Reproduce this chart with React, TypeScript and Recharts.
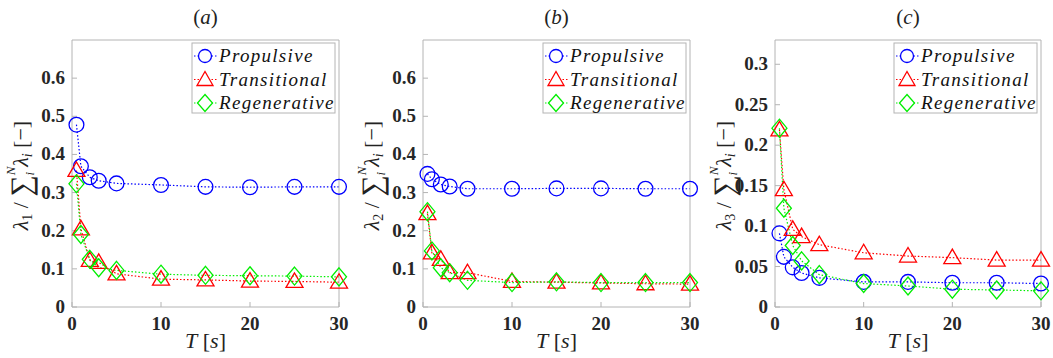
import React from 'react';
import { LineChart, Line, XAxis, YAxis, Customized } from 'recharts';

const periods = [0.5, 1, 2, 3, 5, 10, 15, 20, 25, 30];

const propA = [0.478, 0.369, 0.340, 0.331, 0.324, 0.320, 0.315, 0.314, 0.315, 0.315];
const tranA = [0.358, 0.205, 0.122, 0.117, 0.087, 0.073, 0.071, 0.068, 0.067, 0.065];
const regeA = [0.323, 0.190, 0.125, 0.103, 0.096, 0.086, 0.083, 0.082, 0.081, 0.079];

const propB = [0.349, 0.335, 0.321, 0.316, 0.310, 0.310, 0.311, 0.311, 0.310, 0.310];
const tranB = [0.245, 0.142, 0.125, 0.090, 0.090, 0.067, 0.065, 0.063, 0.061, 0.060];
const regeB = [0.250, 0.147, 0.103, 0.090, 0.070, 0.064, 0.066, 0.064, 0.064, 0.064];

const propC = [0.091, 0.062, 0.049, 0.042, 0.036, 0.031, 0.031, 0.030, 0.030, 0.029];
const tranC = [0.219, 0.145, 0.096, 0.087, 0.077, 0.067, 0.063, 0.061, 0.058, 0.058];
const regeC = [0.221, 0.122, 0.076, 0.057, 0.040, 0.029, 0.026, 0.022, 0.021, 0.020];

const xTicks = [0, 10, 20, 30];
const yTicksAB = [0, 0.1, 0.2, 0.3, 0.4, 0.5, 0.6];
const yTicksC = [0, 0.05, 0.1, 0.15, 0.2, 0.25, 0.3];

const seriesNames = ['Propulsive', 'Transitional', 'Regenerative'];
const BLUE = '#0000ff';
const RED = '#ff0000';
const GREEN = '#00ee00';
const AXIS = '#b4b4b4';
const SERIF = 'Liberation Serif';
const serifStyle = { fontFamily: SERIF };

const Circle = (props: any) => {
  const { cx, cy } = props;
  if (cx == null || cy == null) return null;
  return <circle key={`c${cx}`} cx={cx} cy={cy} r={7.4} fill="none" stroke={BLUE} strokeWidth={1.3} />;
};
const Tri = (props: any) => {
  const { cx, cy } = props;
  if (cx == null || cy == null) return null;
  return (
    <polygon
      key={`t${cx}`}
      points={`${cx},${cy - 8.5} ${cx - 8.5},${cy + 6} ${cx + 8.5},${cy + 6}`}
      fill="none"
      stroke={RED}
      strokeWidth={1.3}
    />
  );
};
const Dia = (props: any) => {
  const { cx, cy } = props;
  if (cx == null || cy == null) return null;
  return (
    <polygon
      key={`d${cx}`}
      points={`${cx},${cy - 9} ${cx + 7.5},${cy} ${cx},${cy + 9} ${cx - 7.5},${cy}`}
      fill="none"
      stroke={GREEN}
      strokeWidth={1.3}
    />
  );
};

const XTick = (props: any) => {
  const { x, y, payload } = props;
  return (
    <text x={x} y={y} dy={14} textAnchor="middle" style={serifStyle} fontWeight={700} fontSize={19} fill="#262626">
      {payload.value}
    </text>
  );
};
const YTick = (props: any) => {
  const { x, y, payload } = props;
  return (
    <text x={x} y={y} dy={6} textAnchor="end" style={serifStyle} fontWeight={700} fontSize={19} fill="#262626">
      {payload.value}
    </text>
  );
};

type PanelProps = {
  left: number;
  width: number;
  margin: { top: number; right: number; bottom: number; left: number };
  letter: string;
  idx: string;
  p: number[];
  t: number[];
  r: number[];
  yMax: number;
  yTicks: number[];
};

function Panel({ left, width, margin, letter, idx, p, t, r, yMax, yTicks }: PanelProps) {
  const height = 358;
  const data = periods.map((T, i) => ({ T, p: p[i], t: t[i], r: r[i] }));
  const plotL = margin.left + 1;
  const plotR = width - margin.right - 1;
  const cxp = (plotL + plotR) / 2;
  const cyp = (margin.top + 1 + height - margin.bottom - 1) / 2;

  const Decor = () => {
    const lx = plotR - 147;
    const ly = 43;
    const rows = [
      { name: seriesNames[0], color: BLUE, kind: 'c' },
      { name: seriesNames[1], color: RED, kind: 't' },
      { name: seriesNames[2], color: GREEN, kind: 'd' },
    ];
    return (
      <g style={serifStyle}>
        <text x={cxp} y={24} textAnchor="middle" style={serifStyle} fontSize={21} fill="#222">
          (<tspan fontStyle="italic">{letter}</tspan>)
        </text>
        <text x={cxp} y={348} textAnchor="middle" style={serifStyle} fontSize={22} fill="#222">
          <tspan fontStyle="italic">T</tspan> [<tspan fontStyle="italic">s</tspan>]
        </text>
        <text
          transform={`translate(${plotL - 44}, ${cyp + 2}) rotate(-90)`}
          textAnchor="middle"
          style={serifStyle}
          fontSize={22}
          fill="#222"
        >
          <tspan fontStyle="italic">λ</tspan>
          <tspan fontSize={14} dy={4}>{idx}</tspan>
          <tspan dy={-4}> / </tspan>
          <tspan fontSize={30} dy={3}>∑</tspan>
          <tspan fontSize={13} dy={-16} fontStyle="italic">N</tspan>
          <tspan fontSize={13} dy={19} dx={-9} fontStyle="italic">i</tspan>
          <tspan dy={-6} dx={5} fontStyle="italic">λ</tspan>
          <tspan fontSize={14} dy={4} fontStyle="italic">i</tspan>
          <tspan dy={-4}> [−]</tspan>
        </text>
        <rect x={lx} y={ly} width={143} height={70} fill="#fff" stroke={AXIS} strokeWidth={1} />
        {rows.map((row, i) => {
          const y = ly + 13 + i * 23.5;
          const mx = lx + 13;
          return (
            <g key={row.name}>
              <line x1={lx + 2} x2={lx + 25} y1={y} y2={y} stroke={row.color} strokeWidth={1.2} strokeDasharray="1.5 2" />
              {row.kind === 'c' && <circle cx={mx} cy={y} r={6.5} fill="#fff" stroke={row.color} strokeWidth={1.3} />}
              {row.kind === 't' && (
                <polygon points={`${mx},${y - 8} ${mx - 8},${y + 6} ${mx + 8},${y + 6}`} fill="#fff" stroke={row.color} strokeWidth={1.3} />
              )}
              {row.kind === 'd' && (
                <polygon points={`${mx},${y - 8.5} ${mx + 7.5},${y} ${mx},${y + 8.5} ${mx - 7.5},${y}`} fill="#fff" stroke={row.color} strokeWidth={1.3} />
              )}
              <text x={lx + 27} y={y + 6} style={serifStyle} fontStyle="italic" fontSize={19} letterSpacing={1.3} fill="#111">
                {row.name}
              </text>
            </g>
          );
        })}
      </g>
    );
  };

  return (
    <div style={{ position: 'absolute', left, top: 0, width, height, fontFamily: SERIF }}>
      <LineChart width={width} height={height} data={data} margin={margin}>
        <XAxis
          dataKey="T"
          type="number"
          domain={[0, 30]}
          ticks={xTicks}
          height={1}
          tickSize={-5}
          tickMargin={14}
          stroke={AXIS}
          tick={XTick}
          interval={0}
        />
        <XAxis xAxisId="top" orientation="top" dataKey="T" type="number" domain={[0, 30]} ticks={xTicks} height={1} tickSize={-5} stroke={AXIS} tick={false} interval={0} />
        <YAxis
          type="number"
          domain={[0, yMax]}
          ticks={yTicks}
          width={1}
          tickSize={-5}
          tickMargin={12}
          stroke={AXIS}
          tick={YTick}
          interval={0}
          allowDataOverflow
        />
        <YAxis yAxisId="right" orientation="right" type="number" domain={[0, yMax]} ticks={yTicks} width={1} tickSize={-5} stroke={AXIS} tick={false} interval={0} allowDataOverflow />
        <Line dataKey="p" stroke={BLUE} strokeWidth={1.2} strokeDasharray="1.5 2" dot={Circle} isAnimationActive={false} />
        <Line dataKey="t" stroke={RED} strokeWidth={1.2} strokeDasharray="1.5 2" dot={Tri} isAnimationActive={false} />
        <Line dataKey="r" stroke={GREEN} strokeWidth={1.2} strokeDasharray="1.5 2" dot={Dia} isAnimationActive={false} />
        <Customized component={<Decor />} />
      </LineChart>
    </div>
  );
}

export default function App() {
  return (
    <div style={{ position: 'absolute', left: 0, top: 0, width: 1053, height: 358, background: '#fff' }}>
      <Panel left={0} width={350} margin={{ top: 39, right: 10, bottom: 50, left: 71 }} letter="a" idx="1" p={propA} t={tranA} r={regeA} yMax={0.7} yTicks={yTicksAB} />
      <Panel left={351} width={350} margin={{ top: 39, right: 10, bottom: 50, left: 71 }} letter="b" idx="2" p={propB} t={tranB} r={regeB} yMax={0.7} yTicks={yTicksAB} />
      <Panel left={702} width={351} margin={{ top: 39, right: 11, bottom: 50, left: 72 }} letter="c" idx="3" p={propC} t={tranC} r={regeC} yMax={0.33} yTicks={yTicksC} />
    </div>
  );
}
